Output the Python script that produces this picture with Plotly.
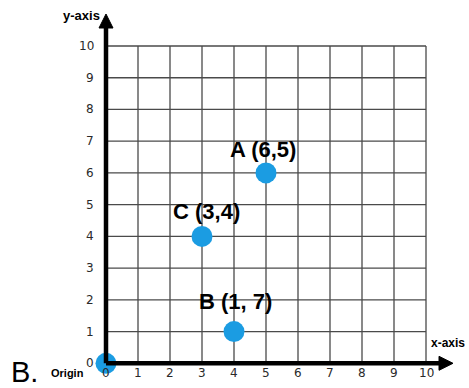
import plotly.graph_objects as go

# Grid extent and tick labels
grid_ticks = list(range(0, 11))
x_tick_labels = [str(v) for v in grid_ticks]
y_tick_labels = [str(v) for v in grid_ticks]

# Plotted points (positions) and their text labels
point_x = [5, 3, 4, 0]
point_y = [6, 4, 1, 0]
point_labels = ["A (6,5)", "C (3,4)", "B (1, 7)", ""]

W, H = 469, 388
# pixel mapping: x=0 at 106px, 32px per unit; y=0 at 363.3px, 31.73px per unit
x0_px, x_unit = 106.0, 32.0
y0_px, y_unit = 363.3, 31.73
x_range = [-x0_px / x_unit, (W - x0_px) / x_unit]
y_range = [-(H - y0_px) / y_unit, y0_px / y_unit]
px_x = 1.0 / x_unit  # one pixel in x data units
px_y = 1.0 / y_unit

shapes = []
grid_color = "#4a4a4a"
gmax = grid_ticks[-1]
for t in grid_ticks[1:]:
    shapes.append(dict(type="line", x0=t, x1=t, y0=0, y1=gmax,
                       line=dict(color=grid_color, width=1.3), layer="below"))
    shapes.append(dict(type="line", x0=0, x1=gmax, y0=t, y1=t,
                       line=dict(color=grid_color, width=1.3), layer="below"))

# Thick axes with arrowheads
x_tip = gmax + 27 * px_x
y_tip = gmax + 32 * px_y
head_len_x = 14 * px_x
head_len_y = 14 * px_y
shapes.append(dict(type="line", x0=0, x1=x_tip - head_len_x, y0=0, y1=0,
                   line=dict(color="black", width=4.5)))
shapes.append(dict(type="line", x0=0, x1=0, y0=0, y1=y_tip - head_len_y,
                   line=dict(color="black", width=4.5)))
shapes.append(dict(type="path",
                   path=f"M {x_tip} 0 L {x_tip - head_len_x} {7 * px_y} L {x_tip - head_len_x} {-7 * px_y} Z",
                   fillcolor="black", line=dict(color="black", width=1)))
shapes.append(dict(type="path",
                   path=f"M 0 {y_tip} L {-7 * px_x} {y_tip - head_len_y} L {7 * px_x} {y_tip - head_len_y} Z",
                   fillcolor="black", line=dict(color="black", width=1)))

annotations = []
tick_font = dict(family="DejaVu Sans", size=12, color="#2a2a2a")
for t, lab in zip(grid_ticks, x_tick_labels):
    annotations.append(dict(x=t, y=-10 * px_y, text=lab, showarrow=False,
                            xanchor="center", yanchor="middle", font=tick_font))
for t, lab in zip(grid_ticks, y_tick_labels):
    annotations.append(dict(x=-10 * px_x, y=t, text=lab, showarrow=False,
                            xanchor="right", yanchor="middle", font=tick_font))

# Point labels
label_font = dict(family="Liberation Sans Narrow, Liberation Sans", size=22, color="black")
label_offsets = {"A (6,5)": (-3, 23), "C (3,4)": (4, 25), "B (1, 7)": (1, 30)}
for x, y, lab in zip(point_x, point_y, point_labels):
    if not lab:
        continue
    dx, dy = label_offsets[lab]
    annotations.append(dict(x=x + dx * px_x, y=y + dy * px_y, text=f"<b>{lab}</b>",
                            showarrow=False, xanchor="center", yanchor="middle",
                            font=label_font))

annotations += [
    dict(x=-4 * px_x, y=y_tip - 1 * px_y, text="<b>y-axis</b>", showarrow=False,
         xanchor="right", yanchor="middle",
         font=dict(family="Liberation Sans", size=13, color="black")),
    dict(x=gmax + 3 * px_x, y=20 * px_y, text="<b>x-axis</b>", showarrow=False,
         xanchor="left", yanchor="middle",
         font=dict(family="Liberation Sans", size=12, color="black")),
    dict(x=-20 * px_x, y=-10 * px_y, text="<b>Origin</b>", showarrow=False,
         xanchor="right", yanchor="middle",
         font=dict(family="Liberation Sans", size=11, color="black")),
    dict(x=-97 * px_x, y=-(380 - y0_px) * px_y, yshift=-10, text="B.", showarrow=False,
         xanchor="left", yanchor="bottom",
         font=dict(family="Liberation Sans", size=29, color="black")),
]

fig = go.Figure(go.Scatter(
    x=point_x, y=point_y, mode="markers",
    marker=dict(size=21, color="#1b9ce2", line=dict(width=0)),
    hoverinfo="skip", cliponaxis=False,
))

fig.update_layout(
    width=W, height=H,
    margin=dict(l=0, r=0, t=0, b=0),
    paper_bgcolor="white", plot_bgcolor="white",
    showlegend=False,
    xaxis=dict(range=x_range, visible=False, fixedrange=True),
    yaxis=dict(range=y_range, visible=False, fixedrange=True),
    shapes=shapes, annotations=annotations,
)

fig.write_html("out.html")
